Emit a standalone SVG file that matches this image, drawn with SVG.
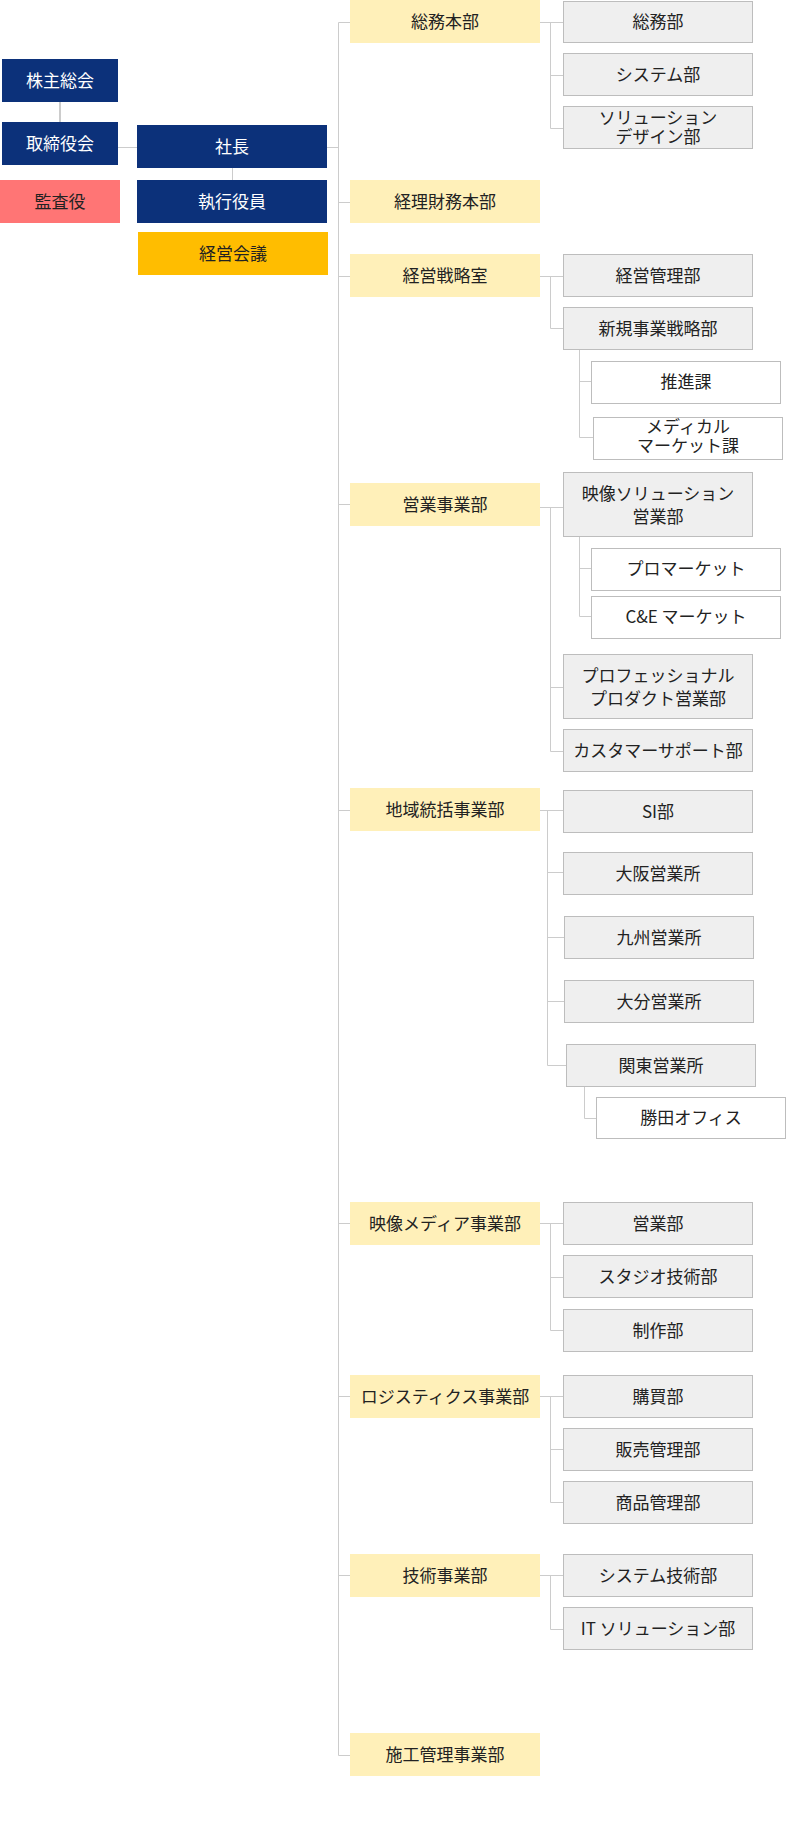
<svg xmlns="http://www.w3.org/2000/svg" width="786" height="1833" viewBox="0 0 786 1833">
<style>
text{font-family:"Noto Sans CJK JP","Noto Sans",sans-serif;font-size:17px;text-anchor:middle;fill:#222}
.navy{fill:#0c317a}
.navy-t{fill:#fff}
.red{fill:#ff7575}
.orange{fill:#ffbd00}
.yel{fill:#fff0b9}
.gray{fill:#efefef;stroke:#bdbdbd;stroke-width:1}
.white{fill:#fff;stroke:#bdbdbd;stroke-width:1}
.ln{fill:none;stroke:#cccccc;stroke-width:1}
</style>
<rect width="786" height="1833" fill="#fff"/>
<g id="connectors">
<path class="ln" d="M60 102V122" style="stroke-width:2"/>
<path class="ln" d="M118 147.5H137M327 147.5H338.5M232.5 168V180"/>
<path class="ln" d="M338.5 22.5V1755.5H350M338.5 202.5H350M338.5 276.5H350M338.5 504.5H350M338.5 810.5H350M338.5 1223.5H350M338.5 1396.5H350M338.5 1575.5H350"/>
<path class="ln" d="M338.5 22.5H350"/>
<path class="ln" d="M540 22.5H563M550.5 22.5V128.5H563M550.5 75.5H563"/>
<path class="ln" d="M540 276.5H563M550.5 276.5V328.5H563"/>
<path class="ln" d="M579.5 349V437.5H593M579.5 381.5H591"/>
<path class="ln" d="M540 507.5H563M550.5 507.5V751.5H563M550.5 687.5H563"/>
<path class="ln" d="M579.5 536V616.5H591M579.5 568.5H591"/>
<path class="ln" d="M540 810.5H563M547.5 810.5V1065.5H566M547.5 872.5H563M547.5 937.5H564M547.5 1001.5H564"/>
<path class="ln" d="M584.5 1086V1118.5H596"/>
<path class="ln" d="M540 1223.5H563M550.5 1223.5V1330.5H563M550.5 1277.5H563"/>
<path class="ln" d="M540 1396.5H563M550.5 1396.5V1502.5H563M550.5 1449.5H563"/>
<path class="ln" d="M540 1575.5H563M550.5 1575.5V1629.5H563"/>
</g>
<g id="n-kabunushi"><rect class="navy" x="2" y="59" width="116" height="43"/><text class="navy-t" x="60" y="86.5">株主総会</text></g>
<g id="n-torishimari"><rect class="navy" x="2" y="122" width="116" height="43"/><text class="navy-t" x="60" y="149.5">取締役会</text></g>
<g id="n-kansa"><rect class="red" x="0" y="180" width="120" height="43"/><text x="60" y="207.5">監査役</text></g>
<g id="n-shacho"><rect class="navy" x="137" y="125" width="190" height="43"/><text class="navy-t" x="232" y="152.5">社長</text></g>
<g id="n-shikko"><rect class="navy" x="137" y="180" width="190" height="43"/><text class="navy-t" x="232" y="207.5">執行役員</text></g>
<g id="n-keiei"><rect class="orange" x="138" y="232" width="190" height="43"/><text x="233" y="259.5">経営会議</text></g>

<g id="h-somu"><rect class="yel" x="350" y="0" width="190" height="43"/><text x="445" y="28">総務本部</text></g>
<g id="h-keiri"><rect class="yel" x="350" y="180" width="190" height="43"/><text x="445" y="208">経理財務本部</text></g>
<g id="h-senryaku"><rect class="yel" x="350" y="254" width="190" height="43"/><text x="445" y="282">経営戦略室</text></g>
<g id="h-eigyo"><rect class="yel" x="350" y="483" width="190" height="43"/><text x="445" y="511">営業事業部</text></g>
<g id="h-chiiki"><rect class="yel" x="350" y="788" width="190" height="43"/><text x="445" y="816">地域統括事業部</text></g>
<g id="h-eizo"><rect class="yel" x="350" y="1202" width="190" height="43"/><text x="445" y="1230">映像メディア事業部</text></g>
<g id="h-logi"><rect class="yel" x="350" y="1375" width="190" height="43"/><text x="445" y="1403">ロジスティクス事業部</text></g>
<g id="h-gijutsu"><rect class="yel" x="350" y="1554" width="190" height="43"/><text x="445" y="1582">技術事業部</text></g>
<g id="h-seko"><rect class="yel" x="350" y="1733" width="190" height="43"/><text x="445" y="1761">施工管理事業部</text></g>

<g id="d-somubu"><rect class="gray" x="563.5" y="1.5" width="189" height="41"/><text x="658" y="28">総務部</text></g>
<g id="d-system"><rect class="gray" x="563.5" y="53.5" width="189" height="42"/><text x="658" y="81">システム部</text></g>
<g id="d-solution"><rect class="gray" x="563.5" y="106.5" width="189" height="42"/><text x="658" y="124">ソリューション</text><text x="658" y="143">デザイン部</text></g>
<g id="d-keieikanri"><rect class="gray" x="563.5" y="254.5" width="189" height="42"/><text x="658" y="282">経営管理部</text></g>
<g id="d-shinki"><rect class="gray" x="563.5" y="307.5" width="189" height="42"/><text x="658" y="335">新規事業戦略部</text></g>
<g id="s-suishin"><rect class="white" x="591.5" y="361.5" width="189" height="42"/><text x="686" y="388">推進課</text></g>
<g id="s-medical"><rect class="white" x="593.5" y="417.5" width="189" height="42"/><text x="688" y="433">メディカル</text><text x="688" y="452">マーケット課</text></g>
<g id="d-eizosol"><rect class="gray" x="563.5" y="472.5" width="189" height="64"/><text x="658" y="500">映像ソリューション</text><text x="658" y="523">営業部</text></g>
<g id="s-pro"><rect class="white" x="591.5" y="548.5" width="189" height="42"/><text x="686" y="575">プロマーケット</text></g>
<g id="s-ce"><rect class="white" x="591.5" y="596.5" width="189" height="42"/><text x="686" y="623">C&amp;E マーケット</text></g>
<g id="d-professional"><rect class="gray" x="563.5" y="654.5" width="189" height="64"/><text x="658" y="682">プロフェッショナル</text><text x="658" y="705">プロダクト営業部</text></g>
<g id="d-customer"><rect class="gray" x="563.5" y="729.5" width="189" height="42"/><text x="658" y="757">カスタマーサポート部</text></g>
<g id="d-si"><rect class="gray" x="563.5" y="790.5" width="189" height="42"/><text x="658" y="818">SI部</text></g>
<g id="d-osaka"><rect class="gray" x="563.5" y="852.5" width="189" height="42"/><text x="658" y="880">大阪営業所</text></g>
<g id="d-kyushu"><rect class="gray" x="564.5" y="916.5" width="189" height="42"/><text x="659" y="944">九州営業所</text></g>
<g id="d-oita"><rect class="gray" x="564.5" y="980.5" width="189" height="42"/><text x="659" y="1008">大分営業所</text></g>
<g id="d-kanto"><rect class="gray" x="566.5" y="1044.5" width="189" height="42"/><text x="661" y="1072">関東営業所</text></g>
<g id="s-katsuta"><rect class="white" x="596.5" y="1097.5" width="189" height="41"/><text x="691" y="1124">勝田オフィス</text></g>
<g id="d-eigyobu"><rect class="gray" x="563.5" y="1202.5" width="189" height="42"/><text x="658" y="1230">営業部</text></g>
<g id="d-studio"><rect class="gray" x="563.5" y="1255.5" width="189" height="42"/><text x="658" y="1283">スタジオ技術部</text></g>
<g id="d-seisaku"><rect class="gray" x="563.5" y="1309.5" width="189" height="42"/><text x="658" y="1337">制作部</text></g>
<g id="d-kobai"><rect class="gray" x="563.5" y="1375.5" width="189" height="42"/><text x="658" y="1403">購買部</text></g>
<g id="d-hanbai"><rect class="gray" x="563.5" y="1428.5" width="189" height="42"/><text x="658" y="1456">販売管理部</text></g>
<g id="d-shohin"><rect class="gray" x="563.5" y="1481.5" width="189" height="42"/><text x="658" y="1509">商品管理部</text></g>
<g id="d-systemgijutsu"><rect class="gray" x="563.5" y="1554.5" width="189" height="42"/><text x="658" y="1582">システム技術部</text></g>
<g id="d-itsol"><rect class="gray" x="563.5" y="1607.5" width="189" height="42"/><text x="658" y="1635">IT ソリューション部</text></g>
</svg>
